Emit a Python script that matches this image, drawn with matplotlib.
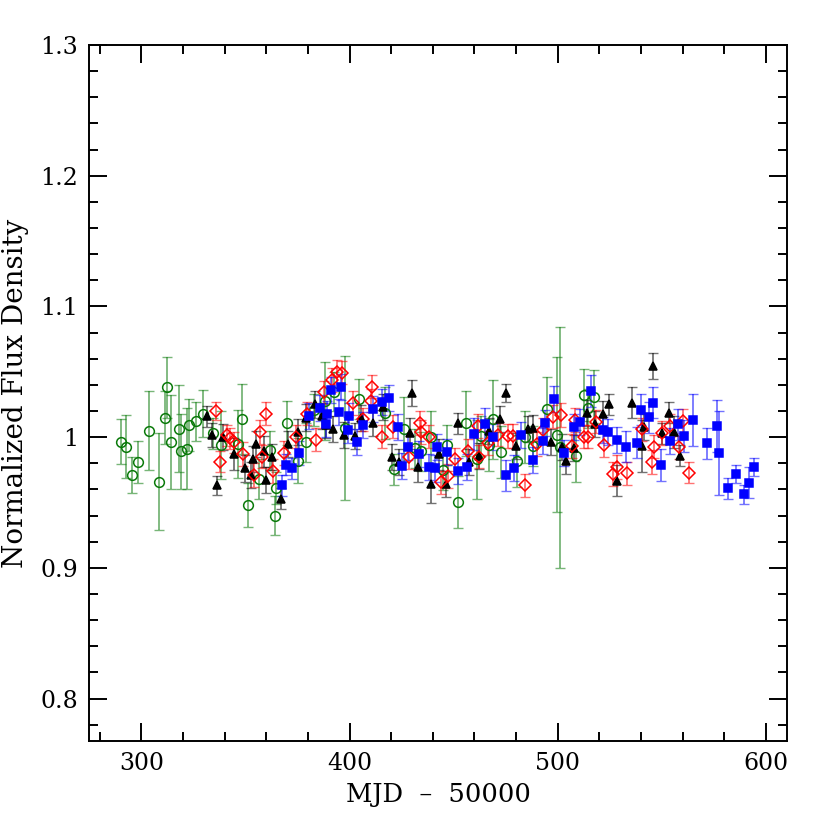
import numpy as np
import matplotlib
matplotlib.use("Agg")
import matplotlib.pyplot as plt
from matplotlib.ticker import MultipleLocator

# ** Dados (MJD - 50000, fluxo normalizado, erro) **
verde_t = [290.4, 292.5, 295.5, 298.6, 303.5, 308.6, 311.5, 312.5, 314.4, 317.9,
           319.2, 322.1, 322.9, 326.4, 329.6, 334.4, 338.5, 346.4, 348.4, 351.0,
           356.4, 361.7, 364.0, 364.9, 370.2, 375.3, 379.3, 383.0, 388.1, 392.4,
           397.7, 404.6, 417.0, 421.3, 426.1, 431.4, 434.1, 439.1, 445.0, 446.9,
           452.2, 455.9, 461.0, 463.0, 467.0, 468.8, 472.7, 480.6, 484.3, 488.0,
           494.7, 499.8, 501.1, 508.8, 512.6, 514.7, 517.6]
verde_f = [0.9965, 0.9927, 0.971, 0.981, 1.005, 0.966, 1.015, 1.038, 0.9965, 1.0065,
           0.989, 0.991, 1.009, 1.012, 1.018, 1.003, 0.994, 0.995, 1.014, 0.948,
           0.968, 0.990, 0.940, 0.961, 1.011, 0.982, 0.996, 1.0207, 1.0276, 1.0347,
           1.0072, 1.0292, 1.0187, 0.9754, 1.006, 0.9914, 0.989, 1.000, 0.9748, 0.994,
           0.9503, 1.0106, 0.983, 1.0008, 0.994, 1.0136, 0.9888, 0.9817, 1.000, 0.9932,
           1.0213, 1.002, 0.9922, 0.9855, 1.0322, 1.022, 1.031]
verde_e = [0.017, 0.024, 0.014, 0.016, 0.030, 0.037, 0.020, 0.023, 0.036, 0.033,
           0.029, 0.031, 0.020, 0.015, 0.018, 0.012, 0.026, 0.026, 0.027, 0.017,
           0.015, 0.015, 0.015, 0.012, 0.017, 0.017, 0.015, 0.012, 0.030, 0.015,
           0.055, 0.015, 0.020, 0.012, 0.025, 0.015, 0.015, 0.020, 0.015, 0.015,
           0.020, 0.025, 0.030, 0.015, 0.020, 0.030, 0.020, 0.020, 0.020, 0.015,
           0.025, 0.059, 0.092, 0.020, 0.020, 0.015, 0.020]

verm_t = [336.0, 337.6, 341.2, 342.8, 344.4, 348.9, 354.1, 356.9, 358.0, 359.8,
          363.3, 368.4, 374.5, 379.8, 384.1, 387.6, 391.6, 393.8, 396.6, 401.7,
          406.6, 410.1, 410.9, 415.7, 420.7, 428.7, 433.9, 434.3, 438.1, 443.8,
          447.4, 450.6, 456.7, 461.5, 462.3, 466.6, 471.4, 476.2, 478.7, 484.3,
          490.2, 492.8, 497.6, 501.4, 506.7, 508.3, 512.8, 514.7, 518.4, 522.3,
          526.4, 528.6, 533.5, 540.4, 545.2, 546.3, 550.3, 554.1, 558.2, 560.1,
          563.3]
verm_f = [1.020, 0.981, 1.0015, 0.999, 0.996, 0.987, 0.971, 1.004, 0.985, 1.018,
          0.974, 0.988, 1.0003, 1.018, 0.998, 1.0343, 1.0437, 1.050, 1.0493, 1.026,
          1.0136, 1.028, 1.0386, 1.0003, 1.008, 0.9845, 1.011, 1.004, 1.0003, 0.9654,
          0.9702, 0.983, 0.9894, 1.0085, 0.985, 0.9957, 1.002, 1.0008, 1.0008, 0.9631,
          0.9947, 1.0054, 1.0156, 1.017, 0.9932, 1.0131, 1.0003, 1.0003, 1.0118, 0.994,
          0.9717, 0.977, 0.9722, 1.006, 0.981, 0.9927, 1.003, 1.0088, 0.9922, 1.0123,
          0.9728]
verm_e = [0.007, 0.008, 0.008, 0.008, 0.008, 0.009, 0.009, 0.009, 0.009, 0.009,
          0.009, 0.009, 0.009, 0.009, 0.009, 0.009, 0.009, 0.009, 0.009, 0.009,
          0.009, 0.009, 0.009, 0.009, 0.009, 0.009, 0.009, 0.009, 0.009, 0.009,
          0.009, 0.009, 0.009, 0.009, 0.009, 0.009, 0.009, 0.009, 0.009, 0.009,
          0.009, 0.009, 0.009, 0.009, 0.009, 0.009, 0.009, 0.009, 0.009, 0.009,
          0.009, 0.009, 0.009, 0.009, 0.009, 0.009, 0.009, 0.009, 0.009, 0.009,
          0.008]

preto_t = [331.4, 333.7, 336.5, 339.2, 344.5, 349.7, 352.9, 353.7, 355.3, 358.9,
           360.0, 362.8, 367.3, 370.5, 375.3, 379.3, 383.3, 387.0, 388.6, 392.2,
           397.3, 402.6, 405.5, 411.3, 416.2, 420.2, 423.8, 429.0, 429.8, 433.0,
           439.1, 443.1, 446.2, 452.2, 457.5, 462.2, 467.1, 472.3, 475.1, 479.9,
           485.9, 488.0, 496.8, 501.9, 503.8, 507.8, 513.9, 517.9, 521.6, 524.8,
           528.6, 535.9, 540.7, 541.6, 545.7, 550.0, 553.7, 555.9, 558.8]
preto_f = [1.016, 1.0015, 0.963, 1.000, 0.987, 0.976, 0.971, 0.983, 0.995, 0.989,
           0.967, 0.985, 0.953, 0.995, 1.004, 1.015, 1.025, 1.016, 1.009, 1.006,
           1.0014, 1.001, 1.0143, 1.011, 1.0228, 0.985, 0.981, 1.003, 1.0335, 0.9774,
           0.9645, 0.9868, 0.9641, 1.0106, 0.9811, 0.9855, 1.0047, 1.0136, 1.034, 0.9935,
           1.006, 1.0072, 0.9965, 0.9927, 0.9819, 0.9914, 1.0187, 1.010, 1.0174, 1.0253,
           0.9666, 1.0263, 0.9932, 1.0079, 1.0543, 1.003, 1.0187, 1.004, 0.9859]
preto_e = [0.008, 0.009, 0.007, 0.010, 0.012, 0.010, 0.010, 0.010, 0.010, 0.012,
           0.010, 0.010, 0.008, 0.010, 0.010, 0.010, 0.010, 0.010, 0.010, 0.010,
           0.010, 0.010, 0.010, 0.010, 0.010, 0.010, 0.010, 0.012, 0.010, 0.012,
           0.015, 0.012, 0.010, 0.008, 0.010, 0.010, 0.010, 0.010, 0.007, 0.010,
           0.010, 0.010, 0.010, 0.010, 0.010, 0.010, 0.010, 0.010, 0.010, 0.008,
           0.012, 0.012, 0.020, 0.010, 0.010, 0.008, 0.008, 0.012, 0.008]

azul_t = [367.5, 369.4, 372.6, 375.6, 380.4, 385.7, 388.6, 389.4, 391.3, 395.0,
          396.1, 399.3, 399.8, 403.4, 406.3, 411.3, 415.7, 419.0, 423.1, 425.1,
          428.2, 433.3, 438.1, 441.0, 442.1, 447.0, 452.2, 456.2, 459.9, 465.0,
          469.0, 475.0, 479.0, 482.2, 488.3, 492.8, 493.9, 498.2, 503.2, 508.0,
          510.7, 516.0, 521.9, 524.0, 528.6, 532.8, 538.0, 539.9, 543.9, 545.7,
          549.7, 553.8, 557.7, 560.7, 564.9, 571.6, 576.7, 577.7, 581.7, 585.7,
          589.7, 591.8, 594.5]
azul_f = [0.963, 0.979, 0.976, 0.988, 1.016, 1.0225, 1.0098, 1.0175, 1.036, 1.019,
          1.0386, 1.0054, 1.016, 0.996, 1.0095, 1.0217, 1.0271, 1.0297, 1.008, 0.9781,
          0.9927, 0.9871, 0.9771, 0.976, 0.9927, 0.9884, 0.974, 0.977, 1.0023, 1.010,
          1.0003, 0.9708, 0.9766, 1.0015, 0.9822, 0.9972, 1.011, 1.0294, 0.9881, 1.0075,
          1.0118, 1.0353, 1.0054, 1.0036, 0.9977, 0.9927, 0.9957, 1.021, 1.0151, 1.0263,
          0.9786, 0.997, 1.0098, 1.0008, 1.0129, 0.9953, 1.0085, 0.9881, 0.9608, 0.9717,
          0.9562, 0.9651, 0.9774]
azul_e = [0.008, 0.008, 0.008, 0.009, 0.010, 0.010, 0.010, 0.010, 0.010, 0.010,
          0.010, 0.010, 0.010, 0.010, 0.010, 0.010, 0.010, 0.010, 0.010, 0.010,
          0.010, 0.010, 0.010, 0.010, 0.010, 0.010, 0.010, 0.010, 0.012, 0.012,
          0.010, 0.012, 0.010, 0.010, 0.010, 0.010, 0.010, 0.010, 0.010, 0.010,
          0.010, 0.012, 0.010, 0.010, 0.010, 0.012, 0.012, 0.012, 0.012, 0.012,
          0.012, 0.010, 0.012, 0.012, 0.020, 0.012, 0.020, 0.032, 0.008, 0.007,
          0.007, 0.012, 0.007]

# ** Figura **
fig = plt.figure(figsize=(8.3, 8.3), dpi=100)
ax = fig.add_axes([0.1076, 0.1072, 0.8402, 0.8386])

def serie(t, f, e, cor, marcador, ms, cheio):
    ax.errorbar(t, f, yerr=e, fmt='none', ecolor=cor, elinewidth=1.3,
                capsize=3.5, capthick=1.0, alpha=0.55, zorder=2)
    ax.plot(t, f, linestyle='none', marker=marcador, markersize=ms,
            markeredgecolor=cor, markerfacecolor=cor if cheio else 'none',
            markeredgewidth=1.1, zorder=3)

serie(verde_t, verde_f, verde_e, '#0a7a0a', 'o', 7, False)
serie(preto_t, preto_f, preto_e, 'black', '^', 6, True)
serie(verm_t, verm_f, verm_e, 'red', 'D', 6, False)
serie(azul_t, azul_f, azul_e, 'blue', 's', 5.5, True)

ax.set_xlim(275, 610)
ax.set_ylim(0.7675, 1.3)
ax.xaxis.set_major_locator(MultipleLocator(100))
ax.xaxis.set_minor_locator(MultipleLocator(20))
ax.yaxis.set_major_locator(MultipleLocator(0.1))
ax.yaxis.set_minor_locator(MultipleLocator(0.02))
ax.yaxis.set_major_formatter(plt.FuncFormatter(lambda v, p: '1' if abs(v - 1) < 1e-9 else '%.1f' % v))

ax.tick_params(which='both', direction='in', top=True, right=True, width=1.4)
ax.tick_params(which='major', length=13, labelsize=17, pad=8)
ax.tick_params(which='minor', length=6.5)
for lado in ax.spines.values():
    lado.set_linewidth(1.4)
for lbl in ax.get_xticklabels() + ax.get_yticklabels():
    lbl.set_family('DejaVu Serif')

ax.set_xlabel('MJD  \u2013  50000', fontsize=18.5, family='DejaVu Serif', labelpad=5)
ax.set_ylabel('Normalized Flux Density', fontsize=20, family='DejaVu Serif', labelpad=8)

fig.savefig('out.png', dpi=100)
